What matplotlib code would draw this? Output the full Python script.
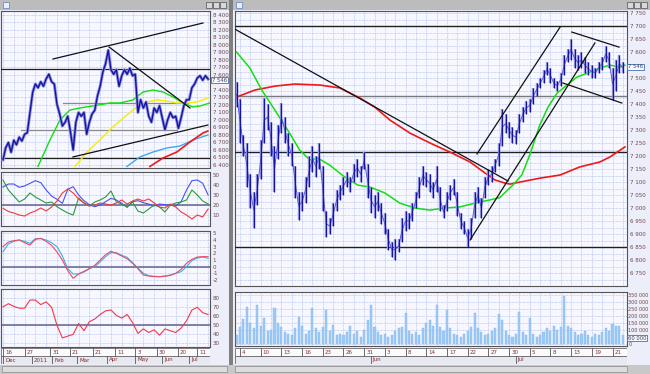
import numpy as np
import matplotlib.pyplot as plt
from matplotlib.patches import Rectangle

W, H = 650, 374

# ---------------- left window: daily chart (one point every 2 sessions) ----------------
l_close = [6470, 6630, 6700, 6570, 6730, 6670, 6770, 6720, 6810, 6830,
           7100, 7370, 7480, 7430, 7510, 7450, 7550, 7610, 7510, 7480,
           7210, 7080, 6920, 6970, 7050, 6840, 6600, 6970, 7100, 7050,
           7100, 6810, 6970, 7080, 7130, 7320, 7450, 7640, 7750, 7930,
           7670, 7610, 7670, 7450, 7590, 7670, 7610, 7690, 7590, 7610,
           7100, 7270, 7160, 7240, 7050, 6970, 7160, 7100, 7190, 7030,
           6870, 7000, 7100, 7030, 7050, 6890, 7030, 7190, 7270, 7270,
           7430, 7480, 7560, 7590, 7530, 7590, 7546]

l_green_x = [12.96, 17.4, 21.1, 24.8, 28.5, 33.3, 39.6, 43.3, 48.1, 51.9, 55.6, 59.3, 63, 66.7, 70.4, 73, 76.7]
l_green_y = [6380, 6733, 7000, 7133, 7160, 7187, 7227, 7227, 7267, 7373, 7400, 7373, 7307, 7227, 7173, 7187, 7227]
l_yellow_x = [26.7, 31.1, 35.9, 40.7, 45.9, 49.6, 53.3, 57, 60.7, 64.4, 68.1, 71.9, 75.9]
l_yellow_y = [6380, 6573, 6733, 6907, 7067, 7173, 7240, 7267, 7253, 7227, 7227, 7240, 7293]
l_blue_x = [45.9, 50.7, 55.6, 60.7, 65.6, 70.4, 75.9]
l_blue_y = [6380, 6507, 6573, 6627, 6653, 6733, 6800]
l_red_x = [54.4, 59.3, 64.4, 69.3, 74.1, 75.9]
l_red_y = [6380, 6493, 6573, 6707, 6827, 6853]

l_trend = [((18.5, 7813), (74.1, 8293)),
           ((39.3, 7973), (69.3, 7160)),
           ((25.9, 6507), (75.9, 6933))]
l_levels = [7680, 6493]
l_gray_levels = [(7227, 22.2, 68.5), (6867, 6.7, 64.4)]

# oscillators, sampled every 2 points
l_adx_blue = [38, 41, 41, 37.7, 39, 41.7, 44.3, 42.3, 35, 29, 25.7, 21.7, 35.7, 38.3, 30, 24.3, 20.3, 18.3, 20, 23.3,
              26.7, 25, 21.7, 17.7, 23.3, 24.3, 22.3, 21, 19, 21, 20.3, 19.7, 19, 23.3, 35, 44.3, 45, 41.7, 30]
l_adx_green = [45, 35, 29, 23, 26, 32, 28, 25, 22, 23, 18.3, 15, 12, 10, 27, 22, 19, 23, 25, 28,
               34, 23, 21, 18, 23, 14, 12, 16, 20, 18, 13, 20, 22, 23, 25, 35, 30, 24, 21]
l_adx_red = [16.7, 13.5, 12, 10, 9, 12, 14, 17, 14, 18, 24, 32, 36, 32, 26, 22, 19, 20, 22, 21,
             20, 22, 25, 21, 24, 26, 24, 26, 22, 18, 17, 21, 18, 13, 10, 6, 10, 8, 16]
l_macd = [3.0, 3.7, 3.9, 4.0, 3.6, 3.25, 4.1, 4.25, 3.8, 3.2, 2.2, 1.0, -0.6, -1.75, -1.1, -0.7, -0.3, 0.2, 1.0, 1.8,
          2.3, 2.0, 1.6, 1.2, 0.5, -0.3, -1.25, -1.4, -1.5, -1.5, -1.45, -1.3, -1.0, -0.4, 0.5, 1.1, 1.45, 1.5, 1.5]
l_signal = [2.25, 3.4, 3.8, 4.0, 3.8, 3.5, 4.2, 4.2, 4.0, 3.6, 3.0, 1.6, -0.3, -1.1, -1.1, -0.8, -0.3, 0.0, 0.7, 1.5,
            2.1, 2.1, 1.7, 1.4, 0.6, -0.2, -1.0, -1.35, -1.45, -1.5, -1.4, -1.25, -1.0, -0.75, 0.0, 0.9, 1.3, 1.45, 1.25]
l_rsi = [70.5, 74, 71, 69, 69, 78, 78, 73, 76, 70, 50, 36, 38, 40, 52, 44, 54, 57, 62, 66,
         67, 61, 58, 62, 53, 41, 46, 42, 45, 39, 46, 44, 42, 47, 55, 67, 70, 64, 62]

l_day_pos = [0, 8.1, 17.4, 24.8, 33.3, 41.5, 48.9, 57, 64.8, 71.9]
l_day_lab = ['16', '27', '31', '21', '21', '11', '3', '30', '20', '11']
l_mon_pos = [0, 10.7, 18.1, 27.4, 38.5, 48.9, 58.9, 68.9]
l_mon_lab = ['Dec', '2011', 'Feb', 'Mar', 'Apr', 'May', 'Jun', 'Jul']

# ---------------- right window: intraday chart ----------------
r_hi = [7485, 7420, 7280, 7250, 7130, 7060, 7130, 7260, 7425, 7400,
        7330, 7240, 7320, 7405, 7350, 7290, 7250, 7160, 7060, 7060,
        7120, 7200, 7240, 7200, 7250, 7160, 6990, 6960, 7020, 7070,
        7090, 7120, 7140, 7120, 7170, 7190, 7160, 7215, 7170, 7080,
        7050, 7060, 7020, 6980, 6920, 6870, 6880, 6880, 6960, 6990,
        6980, 7020, 7060, 7120, 7160, 7140, 7130, 7100, 7160, 7080,
        7010, 7060, 7090, 7110, 7060, 6980, 6950, 6920, 6960, 7060,
        7080, 7040, 7120, 7150, 7160, 7190, 7250, 7380, 7360, 7330,
        7310, 7300, 7360, 7390, 7410, 7420, 7460, 7480, 7500, 7530,
        7560, 7540, 7500, 7490, 7520, 7590, 7610, 7650, 7610, 7590,
        7600, 7580, 7560, 7550, 7540, 7560, 7580, 7625, 7600, 7540,
        7570, 7590, 7560]
r_lo = [7390, 7250, 7200, 7080, 7000, 6925, 7010, 7110, 7250, 7300,
        7200, 7060, 7190, 7290, 7250, 7200, 7160, 7040, 6955, 6990,
        7020, 7080, 7140, 7120, 7150, 6990, 6890, 6900, 6930, 6990,
        7030, 7050, 7080, 7060, 7100, 7120, 7100, 7150, 7040, 6980,
        6960, 6990, 6940, 6900, 6840, 6810, 6800, 6830, 6870, 6910,
        6920, 6950, 7000, 7040, 7090, 7080, 7060, 7040, 7060, 6990,
        6960, 6990, 7030, 7050, 6970, 6920, 6900, 6850, 6880, 6960,
        7020, 6960, 7040, 7090, 7100, 7140, 7160, 7240, 7290, 7270,
        7250, 7245, 7290, 7330, 7360, 7370, 7400, 7430, 7460, 7480,
        7510, 7480, 7460, 7450, 7470, 7510, 7560, 7570, 7540, 7530,
        7540, 7520, 7510, 7500, 7500, 7520, 7530, 7560, 7540, 7415,
        7450, 7520, 7520]
r_vol = [60, 120, 180, 265, 150, 110, 280, 130, 185, 90,
         100, 260, 150, 120, 80, 70, 60, 110, 195, 130,
         70, 90, 255, 110, 80, 120, 240, 90, 135, 60,
         70, 60, 80, 125, 70, 90, 50, 100, 170, 280,
         120, 80, 60, 70, 50, 60, 90, 110, 120, 220,
         90, 70, 80, 60, 110, 150, 170, 130, 280, 120,
         90, 245, 110, 70, 60, 50, 70, 90, 120, 220,
         110, 80, 60, 70, 90, 110, 215, 170, 90, 60,
         50, 70, 230, 80, 60, 185, 70, 50, 60, 80,
         110, 90, 130, 100, 120, 340, 130, 110, 80, 60,
         70, 90, 60, 50, 70, 60, 80, 110, 90, 140,
         125, 130, 60]  # thousands

r_green_x = [0, 3.9, 7.3, 11.1, 15.4, 18.3, 21.2, 23.6, 27, 31.4, 35.2, 38.6, 43, 47.3, 51.7, 56, 60.4,
             64.7, 69.1, 73.4, 76.3, 80.1, 82.7, 85, 87.9, 90.3, 92.9, 95.8, 98.7, 102.5, 105.4, 108.2, 111.2, 112.6]
r_green_y = [7600, 7538, 7454, 7377, 7288, 7223, 7185, 7192, 7165, 7119, 7088, 7081, 7058, 7019, 7000, 6992, 7000,
             7004, 7019, 7031, 7040, 7088, 7127, 7204, 7319, 7388, 7442, 7473, 7504, 7523, 7538, 7550, 7542, 7550]
r_red_x = [0, 5.35, 11.1, 16.9, 24.2, 29.9, 35.8, 40.1, 44.5, 50.3, 56.1, 61.9, 67.7, 72.0, 74.9, 77.8,
           79.3, 82.2, 88, 93.8, 99.5, 105.3, 108.2, 112.6]
r_red_y = [7427, 7454, 7469, 7477, 7473, 7462, 7423, 7388, 7338, 7288, 7250, 7215, 7177, 7135, 7108, 7096,
           7092, 7100, 7115, 7127, 7158, 7177, 7196, 7235]

r_trend = [((-0.45, 7688), (78.7, 7104)),
           ((69.7, 7208), (93.8, 7696)),
           ((67.7, 6877), (103.9, 7635)),
           ((97.2, 7677), (110.9, 7619)),
           ((94.6, 7481), (111.7, 7404))]
r_levels = [7700, 7215, 6850]
r_gray_levels = [7430]

r_day_lab = ['4', '10', '13', '16', '23', '26', '31', '3', '8', '14', '17', '22', '27', '30',
             '5', '8', '13', '19', '21']
r_day_pos = [1 + 6 * k for k in range(len(r_day_lab))]
r_mon_pos = [38.9, 80.9]
r_mon_lab = ['Jun', 'Jul']

LABEL_C = '#6e4646'
GRID_C = '#a9b8e8'

fig = plt.figure(figsize=(6.5, 3.74), dpi=100)
fig.patch.set_facecolor('#c0c0c0')


def box(x0, y0, x1, y1):
    return [x0 / W, 1 - y1 / H, (x1 - x0) / W, (y1 - y0) / H]


def rect(x0, y0, x1, y1, fc, ec='none', lw=0.0, z=0):
    fig.add_artist(Rectangle((x0 / W, 1 - y1 / H), (x1 - x0) / W, (y1 - y0) / H,
                             transform=fig.transFigure, facecolor=fc, edgecolor=ec,
                             linewidth=lw, zorder=z))


def sp(v):
    return f"{int(round(v)):,}".replace(",", " ")


def panel(x0, y0, x1, y1, xlim, ylim, yticks, ylabels, xgrid, ygrid=None, lsize=4):
    ax = fig.add_axes(box(x0, y0, x1, y1))
    ax.set_facecolor('#f6f7ff')
    ax.set_xlim(xlim)
    ax.set_ylim(ylim)
    ax.yaxis.tick_right()
    ax.set_yticks(yticks)
    ax.set_yticklabels(ylabels)
    ax.tick_params(axis='y', labelsize=lsize, labelcolor=LABEL_C, length=0, pad=2)
    ax.set_xticks(xgrid)
    ax.tick_params(axis='x', length=0, labelbottom=False)
    if ygrid is not None:
        ax.set_yticks(ygrid, minor=True)
        ax.tick_params(axis='y', which='minor', length=0)
        ax.grid(True, which='minor', axis='y', color=GRID_C, linestyle=(0, (1, 1)), linewidth=0.5)
    ax.grid(True, which='major', color=GRID_C, linestyle=(0, (1, 1)), linewidth=0.5)
    ax.set_axisbelow(True)
    for s in ax.spines.values():
        s.set_color('#555555')
        s.set_linewidth(0.8)
    return ax


def date_axis(x0, x1, xlim, dpos, dlab, mpos, mlab, off):
    ax = fig.add_axes(box(x0, 348, x1, 364))
    ax.set_xlim(xlim)
    ax.set_ylim(0, 2)
    ax.axis('off')
    ax.add_patch(Rectangle((xlim[0], 1), xlim[1] - xlim[0], 1, facecolor='#fbfbff',
                           edgecolor='#6a6a6a', linewidth=0.6))
    ax.add_patch(Rectangle((xlim[0], 0), xlim[1] - xlim[0], 1, facecolor='#e8e8f0',
                           edgecolor='#6a6a6a', linewidth=0.6))
    for p, t in zip(dpos, dlab):
        ax.plot([p, p], [1, 2], color='#555555', lw=0.6)
        ax.text(p + off, 1.5, t, fontsize=4, color='#8a2a2a', va='center', ha='left')
    for p, t in zip(mpos, mlab):
        ax.plot([p, p], [0, 1], color='#555555', lw=0.6)
        ax.text(p + off, 0.5, t, fontsize=4, color='#8a2a2a', va='center', ha='left')
    return ax


def tag(x, y, text):
    fig.text(x / W, 1 - y / H, text, fontsize=3.8, color='#404060', va='center', zorder=10,
             bbox=dict(boxstyle='square,pad=0.15', fc='#f8f8ff', ec='#4070c0', lw=0.6))


# window chrome
rect(0, 0, 229, 366, '#eceefa')
rect(233, 0, 650, 366, '#eceefa')
rect(229, 0, 233, 374, '#7f7f7f')
rect(0, 0, 229, 10, '#bcbcbc')
rect(233, 0, 650, 10, '#bcbcbc')
rect(3, 2, 9, 8, '#e8f0ff', '#6080c0', 0.5)
rect(236, 2, 242, 8, '#e8f0ff', '#6080c0', 0.5)
for bx in (206, 213, 220, 627, 634, 641):
    rect(bx, 2, bx + 6, 8, '#d8d8d8', '#505050', 0.5)
rect(0, 365, 650, 374, '#c8c8c8')
rect(2, 366, 227, 372, '#dcdcdc', '#8a8a8a', 0.5)
rect(235, 366, 627, 372, '#dcdcdc', '#8a8a8a', 0.5)

# ---------------- left: price ----------------
lx = np.arange(len(l_close))
lxlim = (-0.74, 76.7)
lgrid = np.arange(0, 77, 4)
lp = np.arange(6400, 8401, 100)
# the last-price tag sits where the 7 500 label would be
llab = ['' if v == 7500 else sp(v) for v in lp]
ax = panel(1, 11, 210, 168, lxlim, (6360, 8453), lp, llab, lgrid)
for lev in l_levels:
    ax.axhline(lev, color='#202020', lw=0.9, zorder=3)
for lev, a, b in l_gray_levels:
    ax.plot([a, b], [lev, lev], color='#8a8a8a', lw=0.9, zorder=3)
ax.plot(l_green_x, l_green_y, color='#10e010', lw=1.0, zorder=4)
ax.plot(l_yellow_x, l_yellow_y, color='#f4ee00', lw=1.0, zorder=4)
ax.plot(l_blue_x, l_blue_y, color='#3fa6f0', lw=1.0, zorder=4)
ax.plot(l_red_x, l_red_y, color='#f01818', lw=1.2, zorder=4)
ax.plot(lx, l_close, color='#8f8fe0', lw=2.2, zorder=5)
ax.plot(lx, l_close, color='#1414a0', lw=1.0, zorder=6)
for (xa, ya), (xb, yb) in l_trend:
    ax.plot([xa, xb], [ya, yb], color='#101010', lw=0.9, zorder=7)
tag(212, 80, sp(l_close[-1]))

# ---------------- left: oscillators ----------------
ox = np.arange(0, 77, 2)
t = [10, 20, 30, 40, 50]
ax = panel(1, 172, 210, 226, lxlim, (-1, 53), t, [str(v) for v in t], lgrid)
ax.axhline(20, color='#6c6c9c', lw=1.2)
ax.plot(ox, l_adx_blue, color='#4a52f0', lw=0.8)
ax.plot(ox, l_adx_green, color='#2a9a3a', lw=0.8)
ax.plot(ox, l_adx_red, color='#f03a3a', lw=0.8)

t = [-2, -1, 0, 1, 2, 3, 4, 5]
ax = panel(1, 231, 210, 285, lxlim, (-2.75, 5.35), t, [str(v) for v in t], lgrid)
ax.axhline(0, color='#6c6c9c', lw=1.2)
ax.plot(ox, l_signal, color='#3ab0f0', lw=0.8)
ax.plot(ox, l_macd, color='#f04a5a', lw=0.8)

t = [30, 40, 50, 60, 70, 80]
ax = panel(1, 289, 210, 347, lxlim, (25.9, 90.3), t, [str(v) for v in t], lgrid)
ax.axhline(50, color='#6c6c9c', lw=1.2)
ax.plot(ox, l_rsi, color='#f03a4a', lw=0.8)

date_axis(1, 210, lxlim, l_day_pos, l_day_lab, l_mon_pos, l_mon_lab, 0.8)

# ---------------- right: price ----------------
rx = np.arange(len(r_hi))
rmid = (np.array(r_hi) + np.array(r_lo)) / 2
rxlim = (-0.45, 113.2)
rgrid = np.arange(1, 113, 3)
rp = np.arange(6750, 7751, 50)
rlab = ['' if v == 7550 else sp(v) for v in rp]
ax = panel(235, 11, 627, 286, rxlim, (6700, 7758), rp, rlab, rgrid,
           ygrid=np.arange(6725, 7760, 50))
for lev in r_levels:
    ax.axhline(lev, color='#202020', lw=1.0, zorder=3)
for lev in r_gray_levels:
    ax.axhline(lev, color='#7a7a7a', lw=1.0, zorder=3)
ax.plot(r_red_x, r_red_y, color='#f01818', lw=1.2, zorder=4)
ax.plot(r_green_x, r_green_y, color='#10e010', lw=1.1, zorder=4)
ax.vlines(rx, r_lo, r_hi, color='#9a9ae6', lw=1.7, zorder=5)
ax.plot(rx, rmid, color='#5a5ad0', lw=0.7, zorder=5)
ax.vlines(rx, r_lo, r_hi, color='#1414a0', lw=0.9, zorder=6)
for (xa, ya), (xb, yb) in r_trend:
    ax.plot([xa, xb], [ya, yb], color='#101010', lw=0.9, zorder=7)
tag(628, 67, sp(7546))

# ---------------- right: volume ----------------
vt = [0, 100000, 150000, 200000, 250000, 300000, 350000]
ax = panel(235, 292, 627, 346, rxlim, (-18000, 372000), vt, [sp(v) for v in vt], rgrid, lsize=3.5)
ax.tick_params(axis='y', pad=1)
ax.bar(rx, np.array(r_vol) * 1000, width=0.6, color='#9ccaf6', edgecolor='#86baf0',
       linewidth=0.3, zorder=3)
tag(628, 338, sp(r_vol[-1] * 1000))

date_axis(235, 627, rxlim, r_day_pos, r_day_lab, r_mon_pos, r_mon_lab, 0.6)

fig.savefig('out.png', dpi=100, facecolor=fig.get_facecolor())
